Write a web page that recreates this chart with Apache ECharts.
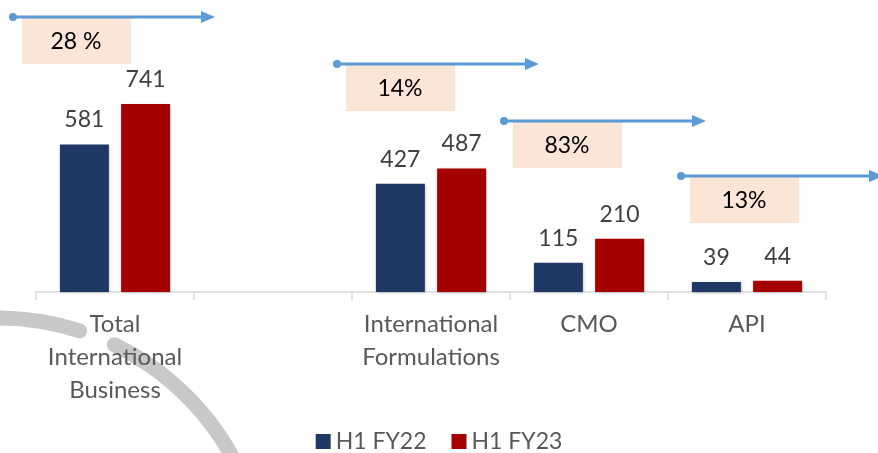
<!DOCTYPE html>
<html>
<head>
<meta charset="utf-8">
<script src="https://cdn.jsdelivr.net/npm/echarts@6/dist/echarts.min.js"></script>
<style>
  html, body { margin: 0; padding: 0; background: #fff; }
  #chart { width: 878px; height: 453px; }
</style>
</head>
<body>
<div id="chart"></div>
<script>
// data
const categories = ['Total International Business', '', 'International Formulations', 'CMO', 'API']
const seriesNames = ['H1 FY22', 'H1 FY23']
const fy22 = [581, null, 427, 115, 39]
const fy23 = [741, null, 487, 210, 44]
const growthLabels = ['28 %', '14%', '83%', '13%']

// where the growth arrows sit (dot position, px)
const arrowOrigins = [[13, 17], [337, 64], [504, 121], [681, 176]]

const FONT = 'Lato, "Noto Sans", sans-serif'
const NAVY = '#1F3864'
const RED = '#A50000'
const ARROW = '#5B9BD5'

function growthGraphics() {
  const out = []
  arrowOrigins.forEach(([x, y], i) => {
    const tip = x + 202
    out.push({
      type: 'rect',
      z: 1,
      shape: { x: x + 9, y: y + 1, width: 109, height: 46 },
      style: { fill: '#FBE5D6' },
    })
    out.push({
      type: 'text',
      z: 2,
      x: x + 63,
      y: y + 25,
      style: {
        text: growthLabels[i],
        fill: '#000',
        font: '23px ' + FONT,
        align: 'center',
        verticalAlign: 'middle',
      },
    })
    out.push({
      type: 'line',
      z: 3,
      shape: { x1: x, y1: y, x2: tip - 12, y2: y },
      style: { stroke: ARROW, lineWidth: 3 },
    })
    out.push({
      type: 'circle',
      z: 3,
      shape: { cx: x, cy: y, r: 4 },
      style: { fill: ARROW },
    })
    out.push({
      type: 'polygon',
      z: 3,
      shape: { points: [[tip - 14, y - 6], [tip, y], [tip - 14, y + 6]] },
      style: { fill: ARROW },
    })
  })
  return out
}

// decorative grey arc behind the first label
function arcGraphics() {
  const base = {
    type: 'arc',
    z: -10,
    shape: { cx: -2, cy: 585, r: 267, clockwise: true },
    style: { stroke: '#C8C8C8', lineWidth: 15, fill: null, lineCap: 'round' },
  }
  return [
    { ...base, shape: { ...base.shape, startAngle: -1.75, endAngle: -1.26 } },
    { ...base, shape: { ...base.shape, startAngle: -1.12, endAngle: -0.3 } },
  ]
}

const labelStyle = {
  show: true,
  position: 'top',
  distance: 13,
  color: '#404040',
  fontFamily: FONT,
  fontSize: 23,
}

const chart = echarts.init(document.getElementById('chart'))
chart.setOption({
  animation: false,
  textStyle: { fontFamily: FONT },
  grid: { left: 36, right: 52, top: 89, bottom: 161 },
  legend: {
    data: seriesNames,
    bottom: 0,
    left: 'center',
    padding: 0,
    itemWidth: 15,
    itemHeight: 15,
    itemGap: 25,
    icon: 'rect',
    textStyle: { color: '#595959', fontSize: 23, fontFamily: FONT },
  },
  xAxis: {
    type: 'category',
    data: categories,
    axisLine: { lineStyle: { color: '#D9D9D9', width: 1.5 } },
    axisTick: { show: true, length: 8, lineStyle: { color: '#D9D9D9', width: 1.5 } },
    axisLabel: {
      interval: 0,
      margin: 16,
      color: '#595959',
      fontSize: 24,
      lineHeight: 33,
      fontFamily: FONT,
      formatter: (v) => v.split(' ').join('\n'),
    },
  },
  yAxis: {
    type: 'value',
    min: 0,
    max: 800,
    show: false,
    splitLine: { show: false },
  },
  series: [
    {
      name: seriesNames[0],
      type: 'bar',
      data: fy22,
      barWidth: 49,
      barGap: '25%',
      itemStyle: { color: NAVY, shadowBlur: 3, shadowColor: 'rgba(0,0,0,0.25)', shadowOffsetX: 1, shadowOffsetY: 1 },
      label: labelStyle,
    },
    {
      name: seriesNames[1],
      type: 'bar',
      data: fy23,
      barWidth: 49,
      itemStyle: { color: RED, shadowBlur: 3, shadowColor: 'rgba(0,0,0,0.25)', shadowOffsetX: 1, shadowOffsetY: 1 },
      label: labelStyle,
    },
  ],
  graphic: [...arcGraphics(), ...growthGraphics()],
})
</script>
</body>
</html>
